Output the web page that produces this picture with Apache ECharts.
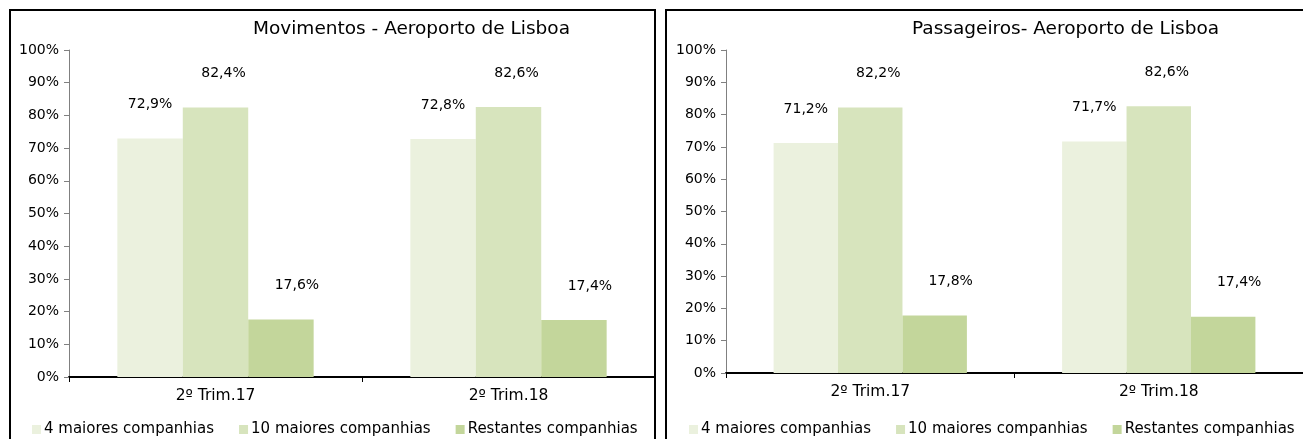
<!DOCTYPE html>
<html>
<head>
<meta charset="utf-8">
<script src="https://cdn.jsdelivr.net/npm/echarts@6/dist/echarts.min.js"></script>
<style>
  html, body { margin: 0; padding: 0; background: #fff; }
  #main { width: 1303px; height: 439px; }
</style>
</head>
<body>
<div id="main"></div>
<script>
  // dados
  var categorias = ['2º Trim.17', '2º Trim.18'];
  var seriesNomes = ['4 maiores companhias', '10 maiores companhias', 'Restantes companhias'];
  var yTicks = [0, 10, 20, 30, 40, 50, 60, 70, 80, 90, 100];

  var movimentos4 = [72.9, 72.8];
  var movimentos10 = [82.4, 82.6];
  var movimentosRest = [17.6, 17.4];

  var passageiros4 = [71.2, 71.7];
  var passageiros10 = [82.2, 82.6];
  var passageirosRest = [17.8, 17.4];

  var cores = ['#EBF1DE', '#D7E4BD', '#C3D69B'];
  var fonte = 'DejaVu Sans';

  function eixoX(gi) {
    return {
      type: 'category',
      gridIndex: gi,
      data: categorias,
      axisLine: { lineStyle: { color: '#000', width: 2 } },
      axisTick: { show: true, length: 5, lineStyle: { color: '#000' } },
      axisLabel: { color: '#000', fontFamily: fonte, fontSize: 15.5, margin: 11 }
    };
  }

  function eixoY(gi) {
    return {
      type: 'value',
      gridIndex: gi,
      min: yTicks[0],
      max: yTicks[yTicks.length - 1],
      interval: 10,
      splitLine: { show: false },
      axisLine: { show: true, lineStyle: { color: '#808080', width: 1 } },
      axisTick: { show: true, length: 5, lineStyle: { color: '#808080' } },
      axisLabel: { color: '#000', fontFamily: fonte, fontSize: 14, margin: 10, formatter: '{value}%' }
    };
  }

  function serie(nome, dados, gi, cor, dx) {
    return {
      name: nome,
      type: 'bar',
      xAxisIndex: gi,
      yAxisIndex: gi,
      data: dados,
      barGap: 0,
      barCategoryGap: '33%',
      itemStyle: { color: cor },
      label: {
        show: true,
        position: 'top',
        distance: 27,
        offset: [dx, 0],
        color: '#000',
        fontFamily: fonte,
        fontSize: 14,
        formatter: function (p) { return p.value.toFixed(1).replace('.', ',') + '%'; }
      }
    };
  }

  function legenda(x) {
    return {
      data: seriesNomes,
      left: x,
      top: 422,
      padding: 0,
      itemWidth: 9,
      itemHeight: 9,
      itemGap: 25,
      icon: 'rect',
      textStyle: { color: '#000', fontFamily: fonte, fontSize: 15, padding: [0, 0, 0, -2] }
    };
  }

  var chart = echarts.init(document.getElementById('main'));
  chart.setOption({
    animation: false,
    backgroundColor: '#fff',
    title: [
      { text: 'Movimentos - Aeroporto de Lisboa', left: 253, top: 20, padding: 0,
        textStyle: { color: '#000', fontFamily: fonte, fontSize: 18.5, fontWeight: 'normal' } },
      { text: 'Passageiros- Aeroporto de Lisboa', left: 912, top: 20, padding: 0,
        textStyle: { color: '#000', fontFamily: fonte, fontSize: 18.5, fontWeight: 'normal' } }
    ],
    legend: [legenda(32), legenda(689)],
    grid: [
      { left: 69, top: 50, width: 586, height: 327 },
      { left: 726, top: 50, width: 588, height: 323 }
    ],
    xAxis: [eixoX(0), eixoX(1)],
    yAxis: [eixoY(0), eixoY(1)],
    series: [
      serie(seriesNomes[0], movimentos4, 0, cores[0], 0),
      serie(seriesNomes[1], movimentos10, 0, cores[1], 8),
      serie(seriesNomes[2], movimentosRest, 0, cores[2], 16),
      serie(seriesNomes[0], passageiros4, 1, cores[0], 0),
      serie(seriesNomes[1], passageiros10, 1, cores[1], 8),
      serie(seriesNomes[2], passageirosRest, 1, cores[2], 16)
    ],
    graphic: [
      { type: 'rect', shape: { x: 10, y: 10, width: 645, height: 450 },
        style: { fill: 'none', stroke: '#000', lineWidth: 2 }, z: 100 },
      { type: 'rect', shape: { x: 666, y: 10, width: 700, height: 450 },
        style: { fill: 'none', stroke: '#000', lineWidth: 2 }, z: 100 }
    ]
  });
</script>
</body>
</html>
